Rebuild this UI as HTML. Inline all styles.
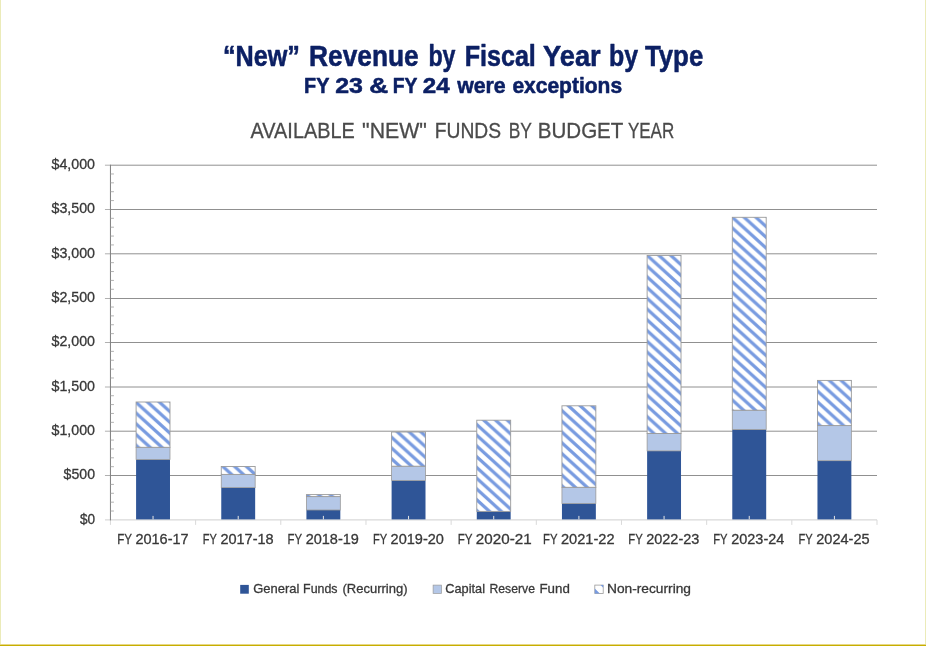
<!DOCTYPE html>
<html lang="en"><head><meta charset="utf-8"><title>New Revenue by Fiscal Year by Type</title>
<style>
html,body{margin:0;padding:0;background:#fff;}
body{width:926px;height:646px;overflow:hidden;position:relative;font-family:"Liberation Sans",sans-serif;}
svg{display:block;position:absolute;left:0;top:0;}
text{font-family:"Liberation Sans",sans-serif;}
.t1{font-weight:bold;fill:#0c2064;stroke:#0c2064;stroke-width:0.55px;stroke-linejoin:round;}
.ax{fill:#383838;stroke:#383838;stroke-width:0.3px;}
</style></head><body>
<svg width="926" height="646" viewBox="0 0 926 646">
<defs><pattern id="h0" patternUnits="userSpaceOnUse" width="11.8" height="10.75" x="136.39" y="402.60"><rect width="11.8" height="10.75" fill="#fff"/><path d="M-2.40,0 L2.40,0 L14.20,10.75 L9.40,10.75z M-14.20,0 L-9.40,0 L2.40,10.75 L-2.40,10.75z M9.40,0 L14.20,0 L26.00,10.75 L21.20,10.75z" fill="#789be0"/></pattern><pattern id="h1" patternUnits="userSpaceOnUse" width="11.8" height="10.75" x="221.56" y="465.30"><rect width="11.8" height="10.75" fill="#fff"/><path d="M-2.40,0 L2.40,0 L14.20,10.75 L9.40,10.75z M-14.20,0 L-9.40,0 L2.40,10.75 L-2.40,10.75z M9.40,0 L14.20,0 L26.00,10.75 L21.20,10.75z" fill="#789be0"/></pattern><pattern id="h2" patternUnits="userSpaceOnUse" width="11.8" height="10.75" x="306.73" y="494.60"><rect width="11.8" height="10.75" fill="#fff"/><path d="M-2.40,0 L2.40,0 L14.20,10.75 L9.40,10.75z M-14.20,0 L-9.40,0 L2.40,10.75 L-2.40,10.75z M9.40,0 L14.20,0 L26.00,10.75 L21.20,10.75z" fill="#789be0"/></pattern><pattern id="h3" patternUnits="userSpaceOnUse" width="11.8" height="10.75" x="391.90" y="437.60"><rect width="11.8" height="10.75" fill="#fff"/><path d="M-2.40,0 L2.40,0 L14.20,10.75 L9.40,10.75z M-14.20,0 L-9.40,0 L2.40,10.75 L-2.40,10.75z M9.40,0 L14.20,0 L26.00,10.75 L21.20,10.75z" fill="#789be0"/></pattern><pattern id="h4" patternUnits="userSpaceOnUse" width="11.8" height="10.75" x="477.07" y="424.80"><rect width="11.8" height="10.75" fill="#fff"/><path d="M-2.40,0 L2.40,0 L14.20,10.75 L9.40,10.75z M-14.20,0 L-9.40,0 L2.40,10.75 L-2.40,10.75z M9.40,0 L14.20,0 L26.00,10.75 L21.20,10.75z" fill="#789be0"/></pattern><pattern id="h5" patternUnits="userSpaceOnUse" width="11.8" height="10.75" x="562.25" y="410.90"><rect width="11.8" height="10.75" fill="#fff"/><path d="M-2.40,0 L2.40,0 L14.20,10.75 L9.40,10.75z M-14.20,0 L-9.40,0 L2.40,10.75 L-2.40,10.75z M9.40,0 L14.20,0 L26.00,10.75 L21.20,10.75z" fill="#789be0"/></pattern><pattern id="h6" patternUnits="userSpaceOnUse" width="11.8" height="10.75" x="647.42" y="255.60"><rect width="11.8" height="10.75" fill="#fff"/><path d="M-2.40,0 L2.40,0 L14.20,10.75 L9.40,10.75z M-14.20,0 L-9.40,0 L2.40,10.75 L-2.40,10.75z M9.40,0 L14.20,0 L26.00,10.75 L21.20,10.75z" fill="#789be0"/></pattern><pattern id="h7" patternUnits="userSpaceOnUse" width="11.8" height="10.75" x="732.59" y="217.50"><rect width="11.8" height="10.75" fill="#fff"/><path d="M-2.40,0 L2.40,0 L14.20,10.75 L9.40,10.75z M-14.20,0 L-9.40,0 L2.40,10.75 L-2.40,10.75z M9.40,0 L14.20,0 L26.00,10.75 L21.20,10.75z" fill="#789be0"/></pattern><pattern id="h8" patternUnits="userSpaceOnUse" width="11.8" height="10.75" x="817.76" y="380.60"><rect width="11.8" height="10.75" fill="#fff"/><path d="M-2.40,0 L2.40,0 L14.20,10.75 L9.40,10.75z M-14.20,0 L-9.40,0 L2.40,10.75 L-2.40,10.75z M9.40,0 L14.20,0 L26.00,10.75 L21.20,10.75z" fill="#789be0"/></pattern></defs>
<rect width="926" height="646" fill="#fff"/>
<rect x="0" y="0" width="1" height="646" fill="#ebebb9"/>
<rect x="925" y="0" width="1" height="646" fill="#ebebb9"/>
<rect x="0" y="644" width="926" height="1" fill="#e6d887"/>
<rect x="0" y="645" width="926" height="1" fill="#c7ae00"/>

<text class="t1" y="65.75" font-size="30.4"><tspan x="222.90" textLength="76.98" lengthAdjust="spacingAndGlyphs">“New”</tspan> <tspan x="309.05" textLength="109.70" lengthAdjust="spacingAndGlyphs">Revenue</tspan> <tspan x="428.46" textLength="27.07" lengthAdjust="spacingAndGlyphs">by</tspan> <tspan x="464.70" textLength="71.16" lengthAdjust="spacingAndGlyphs">Fiscal</tspan> <tspan x="543.09" textLength="57.60" lengthAdjust="spacingAndGlyphs">Year</tspan> <tspan x="609.10" textLength="29.11" lengthAdjust="spacingAndGlyphs">by</tspan> <tspan x="644.90" textLength="58.39" lengthAdjust="spacingAndGlyphs">Type</tspan></text>
<text class="t1" y="93.3" font-size="22.9"><tspan x="304.09" textLength="24.99" lengthAdjust="spacingAndGlyphs">FY</tspan> <tspan x="335.20" textLength="27.70" lengthAdjust="spacingAndGlyphs">23</tspan> <tspan x="369.15" textLength="18.90" lengthAdjust="spacingAndGlyphs">&amp;</tspan> <tspan x="392.67" textLength="24.34" lengthAdjust="spacingAndGlyphs">FY</tspan> <tspan x="422.81" textLength="26.84" lengthAdjust="spacingAndGlyphs">24</tspan> <tspan x="457.16" textLength="48.53" lengthAdjust="spacingAndGlyphs">were</tspan> <tspan x="512.40" textLength="109.69" lengthAdjust="spacingAndGlyphs">exceptions</tspan></text>
<text fill="#4a4a4a" y="138.4" font-size="21.7" stroke="#4a4a4a" stroke-width="0.3"><tspan x="250.57" textLength="104.19" lengthAdjust="spacingAndGlyphs">AVAILABLE</tspan> <tspan x="362.10" textLength="64.84" lengthAdjust="spacingAndGlyphs">"NEW"</tspan> <tspan x="434.72" textLength="66.40" lengthAdjust="spacingAndGlyphs">FUNDS</tspan> <tspan x="508.71" textLength="22.92" lengthAdjust="spacingAndGlyphs">BY</tspan> <tspan x="537.80" textLength="85.20" lengthAdjust="spacingAndGlyphs">BUDGET</tspan> <tspan x="627.90" textLength="46.37" lengthAdjust="spacingAndGlyphs">YEAR</tspan></text>
<line x1="110.45" y1="475.50" x2="877.0" y2="475.50" stroke="#909090" stroke-width="1"/>
<line x1="104.95" y1="475.50" x2="110.45" y2="475.50" stroke="#b0b0b0" stroke-width="1"/>
<line x1="110.45" y1="431.20" x2="877.0" y2="431.20" stroke="#909090" stroke-width="1"/>
<line x1="104.95" y1="431.20" x2="110.45" y2="431.20" stroke="#b0b0b0" stroke-width="1"/>
<line x1="110.45" y1="387.00" x2="877.0" y2="387.00" stroke="#909090" stroke-width="1"/>
<line x1="104.95" y1="387.00" x2="110.45" y2="387.00" stroke="#b0b0b0" stroke-width="1"/>
<line x1="110.45" y1="342.50" x2="877.0" y2="342.50" stroke="#909090" stroke-width="1"/>
<line x1="104.95" y1="342.50" x2="110.45" y2="342.50" stroke="#b0b0b0" stroke-width="1"/>
<line x1="110.45" y1="298.50" x2="877.0" y2="298.50" stroke="#909090" stroke-width="1"/>
<line x1="104.95" y1="298.50" x2="110.45" y2="298.50" stroke="#b0b0b0" stroke-width="1"/>
<line x1="110.45" y1="253.80" x2="877.0" y2="253.80" stroke="#909090" stroke-width="1"/>
<line x1="104.95" y1="253.80" x2="110.45" y2="253.80" stroke="#b0b0b0" stroke-width="1"/>
<line x1="110.45" y1="209.50" x2="877.0" y2="209.50" stroke="#909090" stroke-width="1"/>
<line x1="104.95" y1="209.50" x2="110.45" y2="209.50" stroke="#b0b0b0" stroke-width="1"/>
<line x1="110.45" y1="165.20" x2="877.0" y2="165.20" stroke="#909090" stroke-width="1"/>
<line x1="104.95" y1="165.20" x2="110.45" y2="165.20" stroke="#b0b0b0" stroke-width="1"/>
<line x1="104.95" y1="519.9" x2="877.0" y2="519.9" stroke="#d9d9d9" stroke-width="1.2"/>
<line x1="110.45" y1="519.9" x2="110.45" y2="524.9" stroke="#d9d9d9" stroke-width="1"/>
<line x1="195.62" y1="519.9" x2="195.62" y2="524.9" stroke="#d9d9d9" stroke-width="1"/>
<line x1="280.79" y1="519.9" x2="280.79" y2="524.9" stroke="#d9d9d9" stroke-width="1"/>
<line x1="365.97" y1="519.9" x2="365.97" y2="524.9" stroke="#d9d9d9" stroke-width="1"/>
<line x1="451.14" y1="519.9" x2="451.14" y2="524.9" stroke="#d9d9d9" stroke-width="1"/>
<line x1="536.31" y1="519.9" x2="536.31" y2="524.9" stroke="#d9d9d9" stroke-width="1"/>
<line x1="621.48" y1="519.9" x2="621.48" y2="524.9" stroke="#d9d9d9" stroke-width="1"/>
<line x1="706.66" y1="519.9" x2="706.66" y2="524.9" stroke="#d9d9d9" stroke-width="1"/>
<line x1="791.83" y1="519.9" x2="791.83" y2="524.9" stroke="#d9d9d9" stroke-width="1"/>
<line x1="877.00" y1="519.9" x2="877.00" y2="524.9" stroke="#d9d9d9" stroke-width="1"/>
<line x1="110.45" y1="164.70" x2="110.45" y2="520.4" stroke="#7f7f7f" stroke-width="1"/>
<line x1="110.45" y1="511.03" x2="113.95" y2="511.03" stroke="#a0a0a0" stroke-width="0.8"/>
<line x1="110.45" y1="502.16" x2="113.95" y2="502.16" stroke="#a0a0a0" stroke-width="0.8"/>
<line x1="110.45" y1="493.29" x2="113.95" y2="493.29" stroke="#a0a0a0" stroke-width="0.8"/>
<line x1="110.45" y1="484.42" x2="113.95" y2="484.42" stroke="#a0a0a0" stroke-width="0.8"/>
<line x1="110.45" y1="466.68" x2="113.95" y2="466.68" stroke="#a0a0a0" stroke-width="0.8"/>
<line x1="110.45" y1="457.81" x2="113.95" y2="457.81" stroke="#a0a0a0" stroke-width="0.8"/>
<line x1="110.45" y1="448.94" x2="113.95" y2="448.94" stroke="#a0a0a0" stroke-width="0.8"/>
<line x1="110.45" y1="440.07" x2="113.95" y2="440.07" stroke="#a0a0a0" stroke-width="0.8"/>
<line x1="110.45" y1="422.33" x2="113.95" y2="422.33" stroke="#a0a0a0" stroke-width="0.8"/>
<line x1="110.45" y1="413.46" x2="113.95" y2="413.46" stroke="#a0a0a0" stroke-width="0.8"/>
<line x1="110.45" y1="404.59" x2="113.95" y2="404.59" stroke="#a0a0a0" stroke-width="0.8"/>
<line x1="110.45" y1="395.72" x2="113.95" y2="395.72" stroke="#a0a0a0" stroke-width="0.8"/>
<line x1="110.45" y1="377.98" x2="113.95" y2="377.98" stroke="#a0a0a0" stroke-width="0.8"/>
<line x1="110.45" y1="369.11" x2="113.95" y2="369.11" stroke="#a0a0a0" stroke-width="0.8"/>
<line x1="110.45" y1="360.24" x2="113.95" y2="360.24" stroke="#a0a0a0" stroke-width="0.8"/>
<line x1="110.45" y1="351.37" x2="113.95" y2="351.37" stroke="#a0a0a0" stroke-width="0.8"/>
<line x1="110.45" y1="333.63" x2="113.95" y2="333.63" stroke="#a0a0a0" stroke-width="0.8"/>
<line x1="110.45" y1="324.76" x2="113.95" y2="324.76" stroke="#a0a0a0" stroke-width="0.8"/>
<line x1="110.45" y1="315.89" x2="113.95" y2="315.89" stroke="#a0a0a0" stroke-width="0.8"/>
<line x1="110.45" y1="307.02" x2="113.95" y2="307.02" stroke="#a0a0a0" stroke-width="0.8"/>
<line x1="110.45" y1="289.28" x2="113.95" y2="289.28" stroke="#a0a0a0" stroke-width="0.8"/>
<line x1="110.45" y1="280.41" x2="113.95" y2="280.41" stroke="#a0a0a0" stroke-width="0.8"/>
<line x1="110.45" y1="271.54" x2="113.95" y2="271.54" stroke="#a0a0a0" stroke-width="0.8"/>
<line x1="110.45" y1="262.67" x2="113.95" y2="262.67" stroke="#a0a0a0" stroke-width="0.8"/>
<line x1="110.45" y1="244.93" x2="113.95" y2="244.93" stroke="#a0a0a0" stroke-width="0.8"/>
<line x1="110.45" y1="236.06" x2="113.95" y2="236.06" stroke="#a0a0a0" stroke-width="0.8"/>
<line x1="110.45" y1="227.19" x2="113.95" y2="227.19" stroke="#a0a0a0" stroke-width="0.8"/>
<line x1="110.45" y1="218.32" x2="113.95" y2="218.32" stroke="#a0a0a0" stroke-width="0.8"/>
<line x1="110.45" y1="200.58" x2="113.95" y2="200.58" stroke="#a0a0a0" stroke-width="0.8"/>
<line x1="110.45" y1="191.71" x2="113.95" y2="191.71" stroke="#a0a0a0" stroke-width="0.8"/>
<line x1="110.45" y1="182.84" x2="113.95" y2="182.84" stroke="#a0a0a0" stroke-width="0.8"/>
<line x1="110.45" y1="173.97" x2="113.95" y2="173.97" stroke="#a0a0a0" stroke-width="0.8"/>
<text class="ax" x="79.93" y="523.80" font-size="14.4" textLength="15.14" lengthAdjust="spacingAndGlyphs">$0</text>
<text class="ax" x="63.62" y="479.42" font-size="14.4" textLength="31.37" lengthAdjust="spacingAndGlyphs">$500</text>
<text class="ax" x="51.47" y="435.05" font-size="14.4" textLength="43.54" lengthAdjust="spacingAndGlyphs">$1,000</text>
<text class="ax" x="51.47" y="390.67" font-size="14.4" textLength="43.54" lengthAdjust="spacingAndGlyphs">$1,500</text>
<text class="ax" x="51.47" y="346.30" font-size="14.4" textLength="43.54" lengthAdjust="spacingAndGlyphs">$2,000</text>
<text class="ax" x="51.47" y="301.92" font-size="14.4" textLength="43.54" lengthAdjust="spacingAndGlyphs">$2,500</text>
<text class="ax" x="51.47" y="257.55" font-size="14.4" textLength="43.54" lengthAdjust="spacingAndGlyphs">$3,000</text>
<text class="ax" x="51.47" y="213.17" font-size="14.4" textLength="43.54" lengthAdjust="spacingAndGlyphs">$3,500</text>
<text class="ax" x="51.47" y="168.80" font-size="14.4" textLength="43.54" lengthAdjust="spacingAndGlyphs">$4,000</text>
<rect x="136.09" y="459.50" width="33.9" height="59.90" fill="#2f5597"/>
<rect x="136.09" y="447.30" width="33.9" height="12.20" fill="#b4c7e7" stroke="#9a9a9a" stroke-width="0.8"/>
<rect x="136.09" y="402.00" width="33.9" height="45.30" fill="url(#h0)" stroke="#9a9a9a" stroke-width="0.9"/>
<line x1="153.04" y1="515.9" x2="153.04" y2="519.4" stroke="#e6e6e6" stroke-width="1"/>
<text class="ax" y="544.35" font-size="14.6"><tspan x="117.19" textLength="14.58" lengthAdjust="spacingAndGlyphs">FY</tspan> <tspan x="135.39" textLength="53.26" lengthAdjust="spacingAndGlyphs">2016-17</tspan></text>
<rect x="221.26" y="487.60" width="33.9" height="31.80" fill="#2f5597"/>
<rect x="221.26" y="474.40" width="33.9" height="13.20" fill="#b4c7e7" stroke="#9a9a9a" stroke-width="0.8"/>
<rect x="221.26" y="466.50" width="33.9" height="7.90" fill="url(#h1)" stroke="#9a9a9a" stroke-width="0.9"/>
<line x1="238.21" y1="515.9" x2="238.21" y2="519.4" stroke="#e6e6e6" stroke-width="1"/>
<text class="ax" y="544.35" font-size="14.6"><tspan x="202.86" textLength="13.84" lengthAdjust="spacingAndGlyphs">FY</tspan> <tspan x="220.42" textLength="53.25" lengthAdjust="spacingAndGlyphs">2017-18</tspan></text>
<rect x="306.43" y="510.00" width="33.9" height="9.40" fill="#2f5597"/>
<rect x="306.43" y="496.60" width="33.9" height="13.40" fill="#b4c7e7" stroke="#9a9a9a" stroke-width="0.8"/>
<rect x="306.43" y="494.60" width="33.9" height="2.00" fill="url(#h2)" stroke="#9a9a9a" stroke-width="0.9"/>
<line x1="323.38" y1="515.9" x2="323.38" y2="519.4" stroke="#e6e6e6" stroke-width="1"/>
<text class="ax" y="544.35" font-size="14.6"><tspan x="287.58" textLength="14.36" lengthAdjust="spacingAndGlyphs">FY</tspan> <tspan x="305.65" textLength="53.20" lengthAdjust="spacingAndGlyphs">2018-19</tspan></text>
<rect x="391.60" y="480.50" width="33.9" height="38.90" fill="#2f5597"/>
<rect x="391.60" y="466.20" width="33.9" height="14.30" fill="#b4c7e7" stroke="#9a9a9a" stroke-width="0.8"/>
<rect x="391.60" y="432.00" width="33.9" height="34.20" fill="url(#h3)" stroke="#9a9a9a" stroke-width="0.9"/>
<line x1="408.55" y1="515.9" x2="408.55" y2="519.4" stroke="#e6e6e6" stroke-width="1"/>
<text class="ax" y="544.35" font-size="14.6"><tspan x="372.90" textLength="14.00" lengthAdjust="spacingAndGlyphs">FY</tspan> <tspan x="390.57" textLength="53.34" lengthAdjust="spacingAndGlyphs">2019-20</tspan></text>
<rect x="476.77" y="511.40" width="33.9" height="8.00" fill="#2f5597"/>
<rect x="476.77" y="420.20" width="33.9" height="91.20" fill="url(#h4)" stroke="#9a9a9a" stroke-width="0.9"/>
<line x1="493.72" y1="515.9" x2="493.72" y2="519.4" stroke="#e6e6e6" stroke-width="1"/>
<text class="ax" y="544.35" font-size="14.6"><tspan x="457.63" textLength="14.63" lengthAdjust="spacingAndGlyphs">FY</tspan> <tspan x="475.87" textLength="55.77" lengthAdjust="spacingAndGlyphs">2020-21</tspan></text>
<rect x="561.95" y="503.50" width="33.9" height="15.90" fill="#2f5597"/>
<rect x="561.95" y="487.30" width="33.9" height="16.20" fill="#b4c7e7" stroke="#9a9a9a" stroke-width="0.8"/>
<rect x="561.95" y="405.80" width="33.9" height="81.50" fill="url(#h5)" stroke="#9a9a9a" stroke-width="0.9"/>
<line x1="578.90" y1="515.9" x2="578.90" y2="519.4" stroke="#e6e6e6" stroke-width="1"/>
<text class="ax" y="544.35" font-size="14.6"><tspan x="543.01" textLength="14.30" lengthAdjust="spacingAndGlyphs">FY</tspan> <tspan x="560.91" textLength="53.60" lengthAdjust="spacingAndGlyphs">2021-22</tspan></text>
<rect x="647.12" y="450.90" width="33.9" height="68.50" fill="#2f5597"/>
<rect x="647.12" y="433.50" width="33.9" height="17.40" fill="#b4c7e7" stroke="#9a9a9a" stroke-width="0.8"/>
<rect x="647.12" y="255.40" width="33.9" height="178.10" fill="url(#h6)" stroke="#9a9a9a" stroke-width="0.9"/>
<line x1="664.07" y1="515.9" x2="664.07" y2="519.4" stroke="#e6e6e6" stroke-width="1"/>
<text class="ax" y="544.35" font-size="14.6"><tspan x="628.25" textLength="14.25" lengthAdjust="spacingAndGlyphs">FY</tspan> <tspan x="646.15" textLength="53.24" lengthAdjust="spacingAndGlyphs">2022-23</tspan></text>
<rect x="732.29" y="429.50" width="33.9" height="89.90" fill="#2f5597"/>
<rect x="732.29" y="410.20" width="33.9" height="19.30" fill="#b4c7e7" stroke="#9a9a9a" stroke-width="0.8"/>
<rect x="732.29" y="217.30" width="33.9" height="192.90" fill="url(#h7)" stroke="#9a9a9a" stroke-width="0.9"/>
<line x1="749.24" y1="515.9" x2="749.24" y2="519.4" stroke="#e6e6e6" stroke-width="1"/>
<text class="ax" y="544.35" font-size="14.6"><tspan x="713.20" textLength="14.14" lengthAdjust="spacingAndGlyphs">FY</tspan> <tspan x="731.27" textLength="52.99" lengthAdjust="spacingAndGlyphs">2023-24</tspan></text>
<rect x="817.46" y="460.70" width="33.9" height="58.70" fill="#2f5597"/>
<rect x="817.46" y="425.60" width="33.9" height="35.10" fill="#b4c7e7" stroke="#9a9a9a" stroke-width="0.8"/>
<rect x="817.46" y="380.40" width="33.9" height="45.20" fill="url(#h8)" stroke="#9a9a9a" stroke-width="0.9"/>
<line x1="834.41" y1="515.9" x2="834.41" y2="519.4" stroke="#e6e6e6" stroke-width="1"/>
<text class="ax" y="544.35" font-size="14.6"><tspan x="798.40" textLength="14.00" lengthAdjust="spacingAndGlyphs">FY</tspan> <tspan x="816.28" textLength="53.36" lengthAdjust="spacingAndGlyphs">2024-25</tspan></text>
<rect x="240.2" y="584.9" width="8.6" height="8.8" fill="#2f5597"/>
<text class="ax" y="592.8" font-size="13.5"><tspan x="253.16" textLength="46.17" lengthAdjust="spacingAndGlyphs">General</tspan> <tspan x="303.12" textLength="34.43" lengthAdjust="spacingAndGlyphs">Funds</tspan> <tspan x="342.41" textLength="65.10" lengthAdjust="spacingAndGlyphs">(Recurring)</tspan></text>
<rect x="433.1" y="585.1" width="8.4" height="8.4" fill="#b4c7e7" stroke="#9a9a9a" stroke-width="0.7"/>
<text class="ax" y="592.8" font-size="13.5"><tspan x="445.24" textLength="39.74" lengthAdjust="spacingAndGlyphs">Capital</tspan> <tspan x="489.56" textLength="45.38" lengthAdjust="spacingAndGlyphs">Reserve</tspan> <tspan x="539.49" textLength="30.36" lengthAdjust="spacingAndGlyphs">Fund</tspan></text>
<rect x="594.8" y="585.1" width="8.4" height="8.4" fill="#fff" stroke="#9a9a9a" stroke-width="0.8"/>
<path d="M594.8,588.5 l5,5 h-5z M600.5,585.1 h2.7 v2.7z" fill="#789be0"/>
<text class="ax" y="592.8" font-size="13.5"><tspan x="606.96" textLength="84.03" lengthAdjust="spacingAndGlyphs">Non-recurring</tspan></text>
</svg></body></html>
